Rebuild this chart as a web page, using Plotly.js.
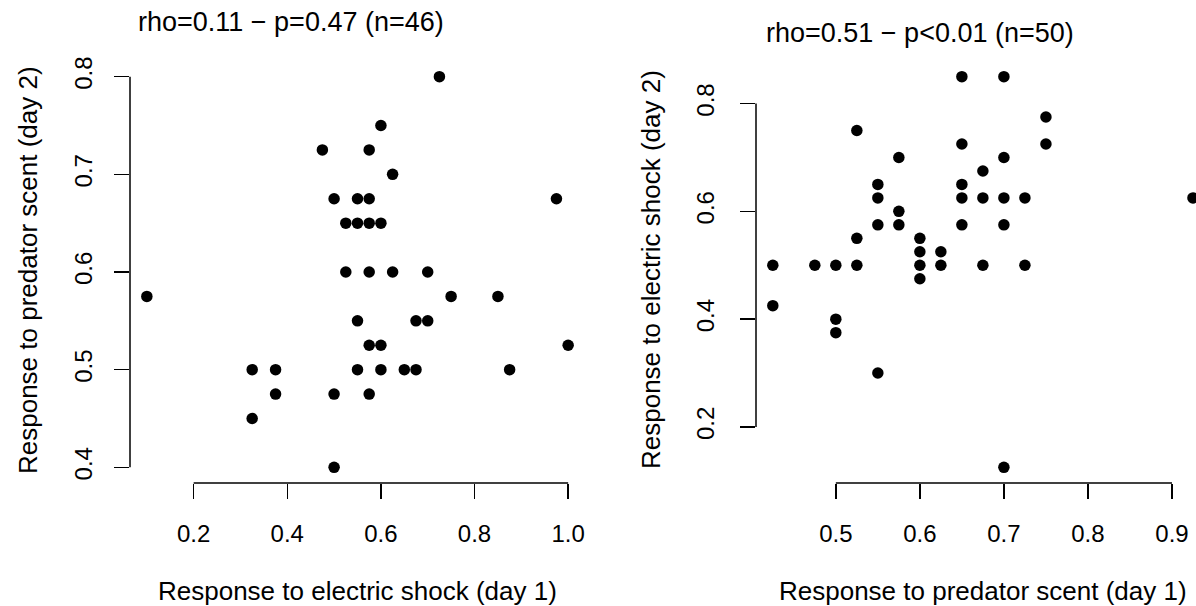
<!DOCTYPE html>
<html>
<head>
<meta charset="utf-8">
<script src="https://cdn.plot.ly/plotly-3.0.1.min.js"></script>
<style>html,body{margin:0;padding:0;background:#fff;}#chart{width:1196px;height:606px;}</style>
</head>
<body>
<div id="chart"></div>
<script>
// Left panel: electric shock day 1 (x) vs predator scent day 2 (y)
const shockDay1 = [0.1, 0.325, 0.375, 0.375, 0.325, 0.5, 0.5, 0.475, 0.5, 0.55, 0.575, 0.525, 0.55, 0.575, 0.6, 0.6, 0.575, 0.625, 0.525, 0.575, 0.625, 0.7, 0.725, 0.975, 0.75, 0.85, 0.55, 0.675, 0.7, 0.575, 0.6, 1.0, 0.55, 0.6, 0.65, 0.675, 0.875, 0.575];
const scentDay2 = [0.575, 0.5, 0.5, 0.475, 0.45, 0.4, 0.475, 0.725, 0.675, 0.675, 0.675, 0.65, 0.65, 0.65, 0.65, 0.75, 0.725, 0.7, 0.6, 0.6, 0.6, 0.6, 0.8, 0.675, 0.575, 0.575, 0.55, 0.55, 0.55, 0.525, 0.525, 0.525, 0.5, 0.5, 0.5, 0.5, 0.5, 0.475];

// Right panel: predator scent day 1 (x) vs electric shock day 2 (y)
const scentDay1 = [0.425, 0.425, 0.475, 0.5, 0.5, 0.5, 0.525, 0.525, 0.525, 0.55, 0.55, 0.55, 0.55, 0.575, 0.575, 0.575, 0.6, 0.6, 0.6, 0.6, 0.625, 0.625, 0.65, 0.65, 0.65, 0.65, 0.65, 0.675, 0.675, 0.675, 0.7, 0.7, 0.7, 0.7, 0.7, 0.725, 0.725, 0.75, 0.75, 0.925];
const shockDay2 = [0.5, 0.425, 0.5, 0.5, 0.4, 0.375, 0.75, 0.55, 0.5, 0.65, 0.625, 0.575, 0.3, 0.7, 0.6, 0.575, 0.55, 0.525, 0.5, 0.475, 0.525, 0.5, 0.85, 0.725, 0.65, 0.625, 0.575, 0.675, 0.625, 0.5, 0.85, 0.7, 0.625, 0.575, 0.125, 0.625, 0.5, 0.775, 0.725, 0.625];

const leftXTicks = [0.2, 0.4, 0.6, 0.8, 1.0];
const leftXTickText = ["0.2", "0.4", "0.6", "0.8", "1.0"];
const leftYTicks = [0.4, 0.5, 0.6, 0.7, 0.8];
const leftYTickText = ["0.4", "0.5", "0.6", "0.7", "0.8"];
const rightXTicks = [0.5, 0.6, 0.7, 0.8, 0.9];
const rightXTickText = ["0.5", "0.6", "0.7", "0.8", "0.9"];
const rightYTicks = [0.2, 0.4, 0.6, 0.8];
const rightYTickText = ["0.2", "0.4", "0.6", "0.8"];

const leftTitle = "rho=0.11 \u2212 p=0.47 (n=46)";
const rightTitle = "rho=0.51 \u2212 p<0.01 (n=50)";
const leftXLabel = "Response to electric shock (day 1)";
const leftYLabel = "Response to predator scent (day 2)";
const rightXLabel = "Response to predator scent (day 1)";
const rightYLabel = "Response to electric shock (day 2)";

const W = 1196, H = 606;
const FONT = "Liberation Sans, Arial, sans-serif";
const px = v => v / W;
const py = v => 1 - v / H;

const marker = {color: "#000", size: 11.5, line: {width: 0}};
const traces = [
  {x: shockDay1, y: scentDay2, type: "scatter", mode: "markers", marker: marker, xaxis: "x", yaxis: "y", cliponaxis: false, hoverinfo: "x+y"},
  {x: scentDay1, y: shockDay2, type: "scatter", mode: "markers", marker: marker, xaxis: "x2", yaxis: "y2", cliponaxis: false, hoverinfo: "x+y"}
];

function axisStyle(extra) {
  return Object.assign({
    showgrid: false, zeroline: false, showline: false,
    ticks: "outside", ticklen: 15, tickwidth: 1.5, tickcolor: "#000",
    tickmode: "array", fixedrange: true,
    tickfont: {family: FONT, size: 24, color: "#000"}
  }, extra);
}

const yDom = [py(483), py(61)];
const layout = {
  width: W, height: H,
  margin: {l: 0, r: 0, t: 0, b: 0},
  paper_bgcolor: "#fff", plot_bgcolor: "#fff",
  showlegend: false,
  xaxis: axisStyle({domain: [px(130), px(585)], range: [0.064, 1.036], anchor: "y", tickvals: leftXTicks, ticktext: leftXTickText, ticklabelstandoff: 14}),
  yaxis: axisStyle({domain: yDom, range: [0.384, 0.816], anchor: "x", tickvals: leftYTicks, ticktext: leftYTickText, tickangle: -90, ticklabelstandoff: 12}),
  xaxis2: axisStyle({domain: [px(756), 1], range: [0.405, 0.9286], anchor: "y2", tickvals: rightXTicks, ticktext: rightXTickText, ticklabelstandoff: 14}),
  yaxis2: axisStyle({domain: yDom, range: [0.096, 0.879], anchor: "x2", tickvals: rightYTicks, ticktext: rightYTickText, tickangle: -90, ticklabelstandoff: 16}),
  shapes: [
    {type: "line", xref: "x", yref: "y domain", x0: leftXTicks[0], x1: leftXTicks[leftXTicks.length - 1], y0: 0, y1: 0, line: {color: "#000", width: 1.5}},
    {type: "line", xref: "x domain", yref: "y", x0: 0, x1: 0, y0: leftYTicks[0], y1: leftYTicks[leftYTicks.length - 1], line: {color: "#000", width: 1.5}},
    {type: "line", xref: "x2", yref: "y2 domain", x0: rightXTicks[0], x1: rightXTicks[rightXTicks.length - 1], y0: 0, y1: 0, line: {color: "#000", width: 1.5}},
    {type: "line", xref: "x2 domain", yref: "y2", x0: 0, x1: 0, y0: rightYTicks[0], y1: rightYTicks[rightYTicks.length - 1], line: {color: "#000", width: 1.5}}
  ],
  annotations: [
    {text: leftTitle, xref: "paper", yref: "paper", x: px(291), y: py(22), xanchor: "center", yanchor: "middle", showarrow: false, font: {family: FONT, size: 27, color: "#000"}},
    {text: rightTitle, xref: "paper", yref: "paper", x: px(920), y: py(33), xanchor: "center", yanchor: "middle", showarrow: false, font: {family: FONT, size: 27, color: "#000"}},
    {text: leftXLabel, xref: "paper", yref: "paper", x: px(357), y: py(591), xanchor: "center", yanchor: "middle", showarrow: false, font: {family: FONT, size: 26, color: "#000"}},
    {text: rightXLabel, xref: "paper", yref: "paper", x: px(983), y: py(591), xanchor: "center", yanchor: "middle", showarrow: false, font: {family: FONT, size: 26, color: "#000"}},
    {text: leftYLabel, xref: "paper", yref: "paper", x: px(28), y: py(270), xanchor: "center", yanchor: "middle", textangle: -90, showarrow: false, font: {family: FONT, size: 26, color: "#000"}},
    {text: rightYLabel, xref: "paper", yref: "paper", x: px(651), y: py(270), xanchor: "center", yanchor: "middle", textangle: -90, showarrow: false, font: {family: FONT, size: 26, color: "#000"}}
  ]
};

Plotly.newPlot("chart", traces, layout, {displayModeBar: false, staticPlot: true});
</script>
</body>
</html>
